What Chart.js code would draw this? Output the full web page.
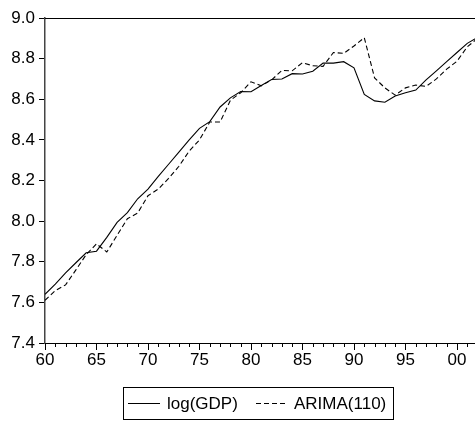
<!DOCTYPE html>
<html>
<head>
<meta charset="utf-8">
<script src="https://cdn.jsdelivr.net/npm/chart.js@4/dist/chart.umd.min.js"></script>
<style>
  html, body { margin: 0; padding: 0; background: #fff; }
  #wrap { width: 475px; height: 421px; }
</style>
</head>
<body>
<div id="wrap"><canvas id="chart" width="475" height="421"></canvas></div>
<script>
// 数据：年份、log(GDP)、ARIMA(110) 拟合
const years = [1960, 1961, 1962, 1963, 1964, 1965, 1966, 1967, 1968, 1969,
               1970, 1971, 1972, 1973, 1974, 1975, 1976, 1977, 1978, 1979,
               1980, 1981, 1982, 1983, 1984, 1985, 1986, 1987, 1988, 1989,
               1990, 1991, 1992, 1993, 1994, 1995, 1996, 1997, 1998, 1999,
               2000, 2001, 2002];
const logGdp = [7.640, 7.690, 7.745, 7.795, 7.844, 7.852, 7.920, 7.994, 8.042, 8.110,
                8.158, 8.220, 8.280, 8.340, 8.400, 8.457, 8.490, 8.562, 8.607, 8.638,
                8.637, 8.668, 8.697, 8.700, 8.726, 8.724, 8.738, 8.778, 8.778, 8.785,
                8.755, 8.624, 8.592, 8.585, 8.616, 8.632, 8.645, 8.695, 8.740, 8.785,
                8.830, 8.875, 8.905];
const arima = [7.610, 7.658, 7.686, 7.760, 7.835, 7.888, 7.848, 7.930, 8.012, 8.040,
               8.125, 8.158, 8.210, 8.270, 8.345, 8.400, 8.488, 8.488, 8.595, 8.632,
               8.686, 8.666, 8.695, 8.742, 8.740, 8.780, 8.765, 8.762, 8.830, 8.826,
               8.862, 8.903, 8.705, 8.656, 8.620, 8.656, 8.670, 8.663, 8.700, 8.748,
               8.787, 8.858, 8.900];
const seriesNames = ['log(GDP)', 'ARIMA(110)'];
const xTicks = [1960, 1965, 1970, 1975, 1980, 1985, 1990, 1995, 2000];
const yTicks = [7.4, 7.6, 7.8, 8.0, 8.2, 8.4, 8.6, 8.8, 9.0];

const FONT = '"Liberation Sans", Arial, sans-serif';
const DASH = [5, 3];

// 坐标轴刻度、上边框、图例
const framePlugin = {
    id: 'frame',
    afterDraw(chart) {
        const ctx = chart.ctx;
        const area = chart.chartArea;
        const x = chart.scales.x;
        ctx.save();
        ctx.strokeStyle = '#000';
        ctx.lineWidth = 1;
        // 上边框
        ctx.beginPath();
        ctx.moveTo(area.left, area.top + 0.5);
        ctx.lineTo(area.right, area.top + 0.5);
        ctx.stroke();
        // x 轴刻度（每年一个，5 年一个长刻度）
        for (let yr = Math.ceil(x.min); yr <= x.max; yr++) {
            const px = Math.round(x.getPixelForValue(yr)) + 0.5;
            const len = yr % 5 === 0 ? 7 : 4;
            ctx.beginPath();
            ctx.moveTo(px, area.bottom);
            ctx.lineTo(px, area.bottom + len);
            ctx.stroke();
        }
        // 图例
        ctx.font = '17px ' + FONT;
        ctx.fillStyle = '#000';
        ctx.textBaseline = 'middle';
        const lx = 123.5, ly = 387.5, lh = 32;
        const cy = ly + lh / 2;
        ctx.beginPath();
        ctx.moveTo(128, cy); ctx.lineTo(160, cy);
        ctx.stroke();
        ctx.fillText(seriesNames[0], 167, cy + 1);
        ctx.setLineDash(DASH);
        ctx.beginPath();
        ctx.moveTo(256, cy); ctx.lineTo(287, cy);
        ctx.stroke();
        ctx.setLineDash([]);
        ctx.fillText(seriesNames[1], 294, cy + 1);
        const right = 294 + ctx.measureText(seriesNames[1]).width + 7;
        ctx.strokeRect(lx, ly, Math.round(right - lx), lh);
        ctx.restore();
    }
};

new Chart(document.getElementById('chart'), {
    type: 'line',
    data: {
        datasets: [{
            label: seriesNames[0],
            data: years.map((yr, i) => ({ x: yr, y: logGdp[i] })),
            borderColor: '#000',
            borderWidth: 1.1,
            pointRadius: 0,
            tension: 0
        }, {
            label: seriesNames[1],
            data: years.map((yr, i) => ({ x: yr, y: arima[i] })),
            borderColor: '#000',
            borderWidth: 1.1,
            borderDash: DASH,
            pointRadius: 0,
            tension: 0
        }]
    },
    options: {
        responsive: false,
        animation: false,
        layout: { padding: { top: 18, right: 0, bottom: 48, left: 0 } },
        plugins: {
            legend: { display: false },
            tooltip: { enabled: false }
        },
        scales: {
            x: {
                type: 'linear',
                min: 1960,
                max: 2001.75,
                afterFit: s => { s.height = 30; },
                afterBuildTicks: s => { s.ticks = xTicks.map(v => ({ value: v })); },
                grid: { display: false, drawTicks: false },
                border: { display: true, color: '#000', width: 1 },
                ticks: {
                    autoSkip: false,
                    maxRotation: 0,
                    padding: 7,
                    color: '#000',
                    font: { family: FONT, size: 17 },
                    callback: v => String(v % 100).padStart(2, '0')
                }
            },
            y: {
                min: 7.4,
                max: 9.0,
                afterFit: s => { s.width = 45; },
                afterBuildTicks: s => { s.ticks = yTicks.map(v => ({ value: v })); },
                grid: { drawOnChartArea: false, tickLength: 6, color: '#000' },
                border: { display: true, color: '#444', width: 1.5 },
                ticks: {
                    padding: 4,
                    color: '#000',
                    font: { family: FONT, size: 17 },
                    callback: v => v.toFixed(1)
                }
            }
        }
    },
    plugins: [framePlugin]
});
</script>
</body>
</html>
